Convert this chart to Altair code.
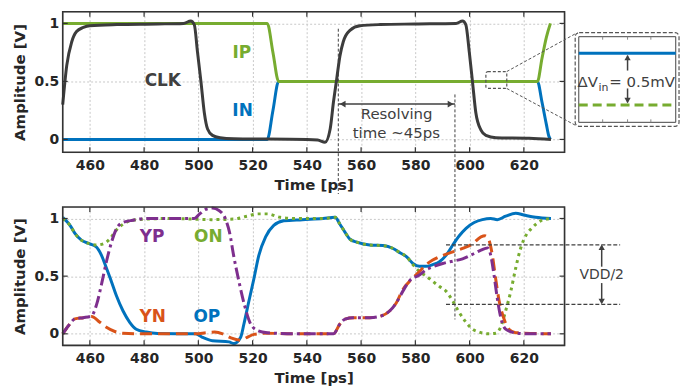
import altair as alt
import pandas as pd

# ---------------- data ----------------
clk_t = [450, 451.5, 453.3, 455.1, 457.6, 460, 470, 485, 494.5, 497.2, 498.5, 499.7, 501.0, 502.2, 503.4, 505.2,
         508, 513, 525, 540, 544, 546.7, 548.6, 549.8, 551.0, 552.2, 553.4, 555.9, 559.6, 567, 580, 595, 597.4,
         598.6, 599.9, 601.1, 602.3, 604.2, 606, 609.7, 622, 630]
clk_v = [0.30, 0.64, 0.84, 0.93, 0.965, 0.98, 0.99, 0.995, 1.0, 1.02, 0.99, 0.75, 0.49, 0.23, 0.09, 0.035,
         0.015, 0.006, 0.003, 0.0, -0.005, -0.025, 0.09, 0.32, 0.52, 0.72, 0.84, 0.94, 0.98, 0.99, 0.995, 1.0, 1.02,
         0.99, 0.75, 0.49, 0.23, 0.08, 0.035, 0.015, 0.01, 0.0]
ip_t = [450, 525.4, 527.5, 529.6, 625, 626.7, 628.3, 629.8]
ip_v = [1.0, 1.0, 0.75, 0.5, 0.5, 0.70, 0.88, 1.0]
in_t = [450, 525.4, 527.5, 529.6, 625, 626.7, 628.3, 629.2, 629.8]
in_v = [0.0, 0.0, 0.25, 0.5, 0.5, 0.32, 0.13, 0.03, 0.0]

op_t = [450, 452.7, 454.5, 457, 460, 462.5, 464.3, 466.1, 468, 469.8, 472.2, 474.7, 477.1, 480.8, 485, 499,
        501.5, 505.2, 511.3, 513.1, 515.6, 516.8, 518.6, 520.5, 522.3, 524.8, 527.8, 531.5, 538.4, 546, 550.4,
        552.2, 554.1, 555.9, 558.4, 563.2, 568.1, 571.8, 574.5, 576.7, 579.1, 581.5, 584, 586.4, 588.9, 591.3,
        593.8, 596.2, 598.7, 601.7, 604.7, 607.8, 610.2, 613.3, 617, 620, 624.3, 630]
op_v = [1.01, 0.94, 0.87, 0.81, 0.78, 0.75, 0.68, 0.57, 0.45, 0.33, 0.2, 0.1, 0.04, 0.015, 0.003, 0.0,
        -0.03, -0.06, -0.07, -0.085, -0.03, 0.085, 0.28, 0.48, 0.68, 0.84, 0.94, 0.98, 0.99, 1.0, 1.01,
        0.95, 0.88, 0.82, 0.795, 0.77, 0.765, 0.74, 0.70, 0.67, 0.61, 0.585, 0.585, 0.60, 0.625, 0.68,
        0.77, 0.85, 0.915, 0.965, 0.99, 1.0, 0.99, 1.02, 1.045, 1.03, 1.01, 1.0]
on_t = [450, 452.7, 454.5, 457, 460, 462.5, 464.9, 467.3, 469.8, 472.2, 475.9, 480.8, 490, 505, 513, 518, 522,
        525.4, 530.2, 536.3, 546, 550.4, 552.2, 554.1, 555.9, 558.4, 563.2, 568.1, 571.8, 574.5, 576.7, 579.1,
        581.5, 584, 586.4, 588.9, 591.3, 593.8, 596.2, 598.7, 601.1, 603.5, 607.2, 609.6, 611.5, 613.3, 615.2,
        617, 618.8, 620.7, 623.1, 626.2, 630]
on_v = [1.0, 0.94, 0.87, 0.81, 0.78, 0.77, 0.78, 0.82, 0.9, 0.95, 0.985, 0.995, 1.0, 0.99, 0.995, 1.02, 1.04,
        1.04, 1.01, 1.0, 1.0, 1.01, 0.95, 0.88, 0.82, 0.795, 0.77, 0.765, 0.74, 0.70, 0.67, 0.60,
        0.54, 0.5, 0.455, 0.41, 0.37, 0.285, 0.185, 0.1, 0.04, 0.015, 0.0, 0.005, 0.06, 0.2, 0.37,
        0.57, 0.74, 0.85, 0.92, 0.98, 1.0]
yp_t = [450, 452.1, 454.5, 457.6, 460.6, 462.5, 464.3, 466.1, 468, 469.8, 472.2, 475.9, 480.8, 498.5, 500.3,
        502.8, 505.2, 507.6, 510.1, 511.5, 513, 515, 517, 519, 521.7, 525.4, 535, 549.8, 552.2, 554.1, 557.1,
        563.2, 567.5, 570.6, 573, 575.4, 577.9, 581.5, 584, 586.4, 590.1, 593.8, 597.4, 601.1, 604.2, 606.6,
        607.8, 609, 610.2, 611.5, 613.3, 616.4, 620.7, 630]
yp_v = [0.0, 0.07, 0.13, 0.14, 0.155, 0.255, 0.43, 0.625, 0.795, 0.91, 0.965, 0.985, 1.0, 1.0, 1.035,
        1.08, 1.09, 1.07, 0.99, 0.88, 0.68, 0.45, 0.25, 0.1, 0.03, 0.01, 0.0, 0.0, 0.085, 0.128, 0.14,
        0.14, 0.156, 0.2, 0.27, 0.37, 0.46, 0.51, 0.555, 0.58, 0.61, 0.63, 0.65, 0.69, 0.725, 0.745,
        0.68, 0.51, 0.31, 0.14, 0.04, 0.01, 0.0, 0.0]
yn_t = [450, 452.1, 454.5, 457.6, 460.6, 463.7, 466.1, 469.2, 472.2, 480, 499, 503, 506, 509, 512, 515.6, 518,
        520.5, 525, 535, 549.8, 552.2, 554.1, 557.1, 563.2, 567.5, 570.6, 573, 575.4, 578.5, 581.5, 584, 586.4,
        590.1, 593.8, 597.4, 601.1, 604.2, 605.7, 607, 608.4, 609.6, 610.9, 612.7, 614.5, 617, 630]
yn_v = [0.0, 0.07, 0.13, 0.14, 0.15, 0.1, 0.056, 0.02, 0.005, 0.0, 0.0, 0.01, 0.015, 0.0, -0.035, -0.055, -0.03,
        -0.005, 0.005, 0.0, 0.0, 0.085, 0.128, 0.14, 0.14, 0.156, 0.2, 0.27, 0.385, 0.47, 0.54, 0.6, 0.64,
        0.68, 0.71, 0.74, 0.78, 0.84, 0.85, 0.82, 0.68, 0.48, 0.285, 0.128, 0.04, 0.01, 0.0]

x_ticks = [460, 480, 500, 520, 540, 560, 580, 600, 620]
y_ticks = [0, 0.5, 1]

# ---------------- style ----------------
FONT = "DejaVu Sans"
GRAY = "#404040"
BOX = "#333333"
W, H1, H2 = 504, 141, 139
C_CLK, C_GREEN, C_BLUE, C_PURPLE, C_ORANGE = "#3c3c3c", "#77AC30", "#0072BD", "#7E2F8E", "#D95319"

xs = alt.Scale(domain=[450, 635], nice=False, zero=False)
ys1 = alt.Scale(domain=[-0.11, 1.1], nice=False, zero=False)
ys2 = alt.Scale(domain=[-0.1, 1.1], nice=False, zero=False)

common = dict(grid=True, ticks=False, domain=False, labelFont=FONT, labelFontWeight="bold",
              labelFontSize=14, labelColor="#262626", titleFont=FONT, titleFontWeight="bold",
              titleFontSize=15, titleColor="#262626", gridColor="#c8c8c8", gridDash=[2, 2], gridWidth=1)
x_axis = alt.Axis(values=x_ticks, title="Time [ps]", format="d", labelPadding=6, titlePadding=5, **common)
y_axis = alt.Axis(values=y_ticks, title="Amplitude [V]", format="~g", labelPadding=4, titlePadding=7, **common)


def X():
    return alt.X("t:Q", scale=xs, axis=x_axis)


def Y(ys):
    return alt.Y("v:Q", scale=ys, axis=y_axis)


def curve(t, v, color, ys, dash=None, width=3):
    kw = dict(color=color, strokeWidth=width, interpolate="monotone", strokeCap="butt")
    if dash:
        kw["strokeDash"] = dash
    return alt.Chart(pd.DataFrame({"t": t, "v": v})).mark_line(**kw).encode(x=X(), y=Y(ys))


def box_and_ticks(ys, H):
    xt = pd.DataFrame({"t": x_ticks})
    yt = pd.DataFrame({"v": y_ticks})
    r = dict(color=BOX, strokeWidth=1.2)
    frame = pd.DataFrame({"x": [0], "x2": [W], "y": [0], "y2": [H]})
    return [
        alt.Chart(xt).mark_rule(**r).encode(x=X(), y=alt.value(0), y2=alt.value(5)),
        alt.Chart(xt).mark_rule(**r).encode(x=X(), y=alt.value(H - 5), y2=alt.value(H)),
        alt.Chart(yt).mark_rule(**r).encode(y=Y(ys), x=alt.value(0), x2=alt.value(5)),
        alt.Chart(yt).mark_rule(**r).encode(y=Y(ys), x=alt.value(W - 5), x2=alt.value(W)),
        alt.Chart(frame).mark_rect(fill="transparent", stroke=BOX, strokeWidth=1.6).encode(
            x=px("x"), x2="x2:Q", y=py("y"), y2="y2:Q"),
    ]


def labels(names, ts, vs, colors, ys, size=17):
    df = pd.DataFrame({"t": ts, "v": vs, "name": names, "c": colors})
    return alt.Chart(df).mark_text(font=FONT, fontWeight="bold", fontSize=size, baseline="middle").encode(
        x=X(), y=Y(ys), text="name:N", color=alt.Color("c:N", scale=None))


def px(field):
    return alt.X(f"{field}:Q", scale=None, axis=None)


def py(field):
    return alt.Y(f"{field}:Q", scale=None, axis=None)


# ---------------- top panel ----------------
top_layers = [
    curve(in_t, in_v, C_BLUE, ys1),
    curve(ip_t, ip_v, C_GREEN, ys1),
    curve(clk_t, clk_v, C_CLK, ys1),
    labels(["CLK", "IP", "IN"], [486.9, 516.0, 516.3], [0.50, 0.743, 0.242], [GRAY, C_GREEN, C_BLUE], ys1),
]
top_layers += box_and_ticks(ys1, H1)

# resolving-time annotation
res = pd.DataFrame({"t": [551.6, 594.6], "y": [17, 83], "y2": [183, 309]})
top_layers.append(alt.Chart(res).mark_rule(color=GRAY, strokeWidth=1, strokeDash=[3, 2]).encode(
    x=X(), y=py("y"), y2=alt.Y2("y2:Q")))
arr = pd.DataFrame({"t": [551.6], "t2": [594.6], "v": [0.305]})
top_layers.append(alt.Chart(arr).mark_rule(color=GRAY, strokeWidth=1.5).encode(
    x=X(), x2="t2:Q", y=Y(ys1)))
heads = pd.DataFrame({"t": [553.2, 593.0], "v": [0.305, 0.305], "shape": ["triangle-left", "triangle-right"]})
top_layers.append(alt.Chart(heads).mark_point(filled=True, size=45, color=GRAY, opacity=1).encode(
    x=X(), y=Y(ys1), shape=alt.Shape("shape:N", scale=None)))
rtxt = pd.DataFrame({"t": [573.1, 573.0], "v": [0.219, 0.052], "txt": ["Resolving", "time ~45ps"]})
top_layers.append(alt.Chart(rtxt).mark_text(font=FONT, fontSize=15, color=GRAY, baseline="middle").encode(
    x=X(), y=Y(ys1), text="txt:N"))

# zoom rectangle + connectors + inset (pixel positions in the panel)
zrect = pd.DataFrame({"x": [425], "x2": [446], "y": [60], "y2": [77]})
top_layers.append(alt.Chart(zrect).mark_rect(fill="transparent", stroke="#555555", strokeWidth=1.2,
                                             strokeDash=[3, 2], cornerRadius=2).encode(
    x=px("x"), x2="x2:Q", y=py("y"), y2="y2:Q"))
conn = pd.DataFrame({"x": [446, 446], "y": [60, 77], "x2": [515, 515], "y2": [22, 114]})
top_layers.append(alt.Chart(conn).mark_rule(color="#555555", strokeWidth=1, strokeDash=[3, 2]).encode(
    x=px("x"), y=py("y"), x2="x2:Q", y2="y2:Q"))
outer = pd.DataFrame({"x": [514.7], "x2": [619], "y": [21], "y2": [115]})
top_layers.append(alt.Chart(outer).mark_rect(fill="white", stroke="#555555", strokeWidth=1.2,
                                             strokeDash=[4, 2], cornerRadius=4).encode(
    x=px("x"), x2="x2:Q", y=py("y"), y2="y2:Q"))
inner = pd.DataFrame({"x": [518.3], "x2": [615.7], "y": [25], "y2": [111]})
top_layers.append(alt.Chart(inner).mark_rect(fill="white", stroke="#444444", strokeWidth=1).encode(
    x=px("x"), x2="x2:Q", y=py("y"), y2="y2:Q"))
itk = pd.DataFrame({"x": [542.3, 567.3, 590.7, 542.3, 567.3, 590.7],
                    "y": [25, 25, 25, 108, 108, 108], "y2": [28, 28, 28, 111, 111, 111]})
top_layers.append(alt.Chart(itk).mark_rule(color="#888888", strokeWidth=1).encode(
    x=px("x"), y=py("y"), y2="y2:Q"))
ilines = pd.DataFrame({"x": [518.3], "x2": [615.7], "y": [41.7]})
top_layers.append(alt.Chart(ilines).mark_rule(color=C_BLUE, strokeWidth=3).encode(
    x=px("x"), x2="x2:Q", y=py("y")))
top_layers.append(alt.Chart(pd.DataFrame({"x": [518.3], "x2": [615.7], "y": [93.7]})).mark_rule(
    color=C_GREEN, strokeWidth=3, strokeDash=[9, 5]).encode(x=px("x"), x2="x2:Q", y=py("y")))
iarr = pd.DataFrame({"x": [567.3, 567.3], "y": [59, 77], "y2": [44, 91]})
top_layers.append(alt.Chart(iarr).mark_rule(color=GRAY, strokeWidth=1.5).encode(
    x=px("x"), y=py("y"), y2="y2:Q"))
ihead = pd.DataFrame({"x": [567.3, 567.3], "y": [46, 89], "shape": ["triangle-up", "triangle-down"]})
top_layers.append(alt.Chart(ihead).mark_point(filled=True, size=40, color=GRAY, opacity=1).encode(
    x=px("x"), y=py("y"), shape=alt.Shape("shape:N", scale=None)))
itxt = pd.DataFrame({"x": [517, 549], "y": [76, 76], "txt": ["ΔV", "= 0.5mV"]})
top_layers.append(alt.Chart(itxt).mark_text(font=FONT, fontSize=15, color=GRAY, align="left",
                                            baseline="alphabetic").encode(x=px("x"), y=py("y"), text="txt:N"))
top_layers.append(alt.Chart(pd.DataFrame({"x": [538], "y": [79.5], "txt": ["in"]})).mark_text(
    font=FONT, fontSize=11, color=GRAY, align="left", baseline="alphabetic").encode(
    x=px("x"), y=py("y"), text="txt:N"))

top = alt.layer(*top_layers).properties(width=W, height=H1)

# ---------------- bottom panel ----------------
bot_layers = [
    curve(op_t, op_v, C_BLUE, ys2),
    curve(on_t, on_v, C_GREEN, ys2, dash=[3, 4]),
    curve(yn_t, yn_v, C_ORANGE, ys2, dash=[12, 6]),
    curve(yp_t, yp_v, C_PURPLE, ys2, dash=[12, 4, 3, 4]),
    labels(["YP", "ON", "YN", "OP"], [482.9, 503.7, 483.2, 503.1], [0.838, 0.838, 0.142, 0.142],
           [C_PURPLE, C_GREEN, C_ORANGE, C_BLUE], ys2),
]
bot_layers += box_and_ticks(ys2, H2)
vdd = pd.DataFrame({"t": [591.3, 591.3], "t2": [655.5, 655.5], "v": [0.772, 0.256]})
bot_layers.append(alt.Chart(vdd).mark_rule(color=GRAY, strokeWidth=1.2, strokeDash=[4, 2]).encode(
    x=X(), x2="t2:Q", y=Y(ys2)))
varr = pd.DataFrame({"t": [648.7, 648.7], "v": [0.582, 0.44], "v2": [0.76, 0.27]})
bot_layers.append(alt.Chart(varr).mark_rule(color=GRAY, strokeWidth=1.5).encode(
    x=X(), y=Y(ys2), y2="v2:Q"))
vhead = pd.DataFrame({"t": [648.7, 648.7], "v": [0.75, 0.28], "shape": ["triangle-up", "triangle-down"]})
bot_layers.append(alt.Chart(vhead).mark_point(filled=True, size=40, color=GRAY, opacity=1).encode(
    x=X(), y=Y(ys2), shape=alt.Shape("shape:N", scale=None)))
bot_layers.append(alt.Chart(pd.DataFrame({"t": [648.7], "v": [0.51], "txt": ["VDD/2"]})).mark_text(
    font=FONT, fontSize=14, color=GRAY, baseline="middle").encode(x=X(), y=Y(ys2), text="txt:N"))

bot = alt.layer(*bot_layers).properties(width=W, height=H2)

chart = alt.vconcat(top, bot, spacing=55, bounds="flush").properties(
    padding={"left": 11, "top": 9, "right": 5, "bottom": 5}
).configure_view(stroke=None).configure(font=FONT, background="white")

chart.save("out.html", embed_options={"renderer": "svg", "actions": False})
